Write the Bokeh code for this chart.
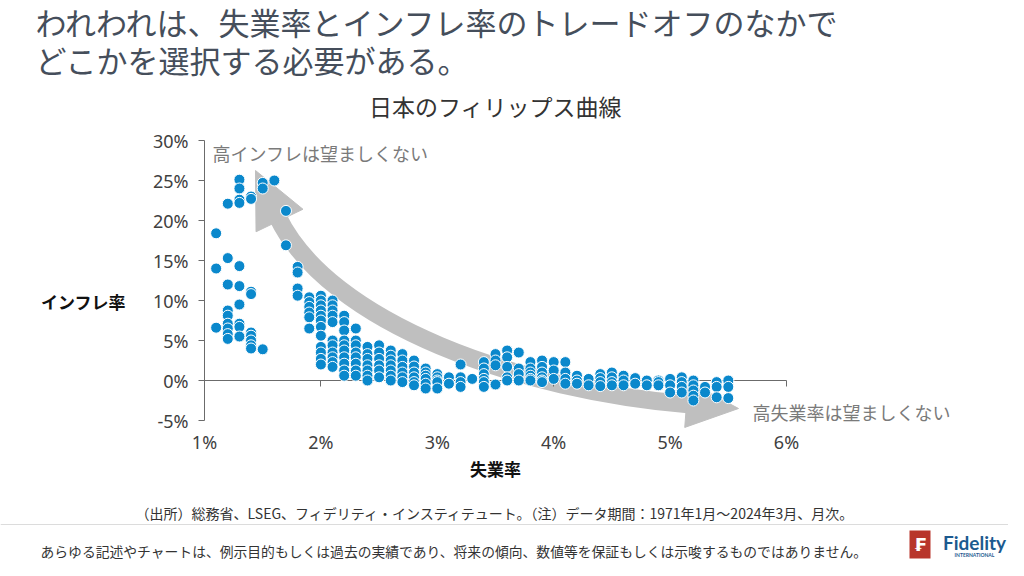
import math
from bokeh.plotting import figure
from bokeh.models import (Range1d, FixedTicker, PrintfTickFormatter,
                          Label, BoxAnnotation)
from bokeh.embed import file_html
from bokeh.resources import INLINE

# ---------------- data ----------------
unemployment_rate = [
    1.1, 1.1, 1.1,
    1.2, 1.2, 1.2, 1.2, 1.2, 1.2, 1.2, 1.2, 1.2,
    1.3, 1.3, 1.3, 1.3, 1.3, 1.3, 1.3, 1.3, 1.3, 1.3,
    1.4, 1.4, 1.4, 1.4, 1.4, 1.4, 1.4, 1.4, 1.4,
    1.5, 1.5, 1.5,
    1.6,
    1.7, 1.7,
    1.8, 1.8, 1.8, 1.8,
    1.9, 1.9, 1.9, 1.9, 1.9, 1.9,
    2.0, 2.0, 2.0, 2.0, 2.0, 2.0, 2.0, 2.0, 2.0, 2.0, 2.0, 2.0,
    2.1, 2.1, 2.1, 2.1, 2.1, 2.1, 2.1, 2.1, 2.1, 2.1, 2.1,
    2.2, 2.2, 2.2, 2.2, 2.2, 2.2, 2.2, 2.2, 2.2, 2.2,
    2.3, 2.3, 2.3, 2.3, 2.3, 2.3, 2.3, 2.3,
    2.4, 2.4, 2.4, 2.4, 2.4, 2.4, 2.4,
    2.5, 2.5, 2.5, 2.5, 2.5, 2.5,
    2.6, 2.6, 2.6, 2.6, 2.6, 2.6, 2.6,
    2.7, 2.7, 2.7, 2.7, 2.7, 2.7,
    2.8, 2.8, 2.8, 2.8, 2.8, 2.8,
    2.9, 2.9, 2.9, 2.9, 2.9, 2.9,
    3.0, 3.0, 3.0, 3.0, 3.0,
    3.1, 3.1,
    3.2, 3.2, 3.2, 3.2,
    3.3,
    3.4, 3.4, 3.4, 3.4, 3.4, 3.4,
    3.5, 3.5, 3.5, 3.5,
    3.6, 3.6, 3.6, 3.6, 3.6,
    3.7, 3.7, 3.7, 3.7,
    3.8, 3.8, 3.8, 3.8, 3.8, 3.8,
    3.9, 3.9, 3.9, 3.9, 3.9, 3.9,
    4.0, 4.0, 4.0,
    4.1, 4.1, 4.1, 4.1,
    4.2, 4.2, 4.2,
    4.3, 4.3,
    4.4, 4.4, 4.4, 4.4,
    4.5, 4.5, 4.5, 4.5,
    4.6, 4.6, 4.6,
    4.7, 4.7,
    4.8, 4.8,
    4.9, 4.9, 4.9,
    5.0, 5.0, 5.0,
    5.1, 5.1, 5.1, 5.1,
    5.2, 5.2, 5.2, 5.2, 5.2,
    5.3, 5.3,
    5.4, 5.4, 5.4,
    5.5, 5.5, 5.5,
]
inflation_rate = [
    18.4, 14.0, 6.6,
    22.1, 15.3, 12.0, 8.75, 8.1, 7.1, 6.5, 5.8, 5.2,
    25.1, 24.0, 22.6, 22.2, 14.3, 11.8, 9.5, 7.1, 6.7, 5.5,
    23.0, 22.7, 11.1, 10.8, 6.0, 5.6, 5.0, 4.4, 4.0,
    24.7, 24.0, 3.9,
    25.0,
    21.2, 16.9,
    14.2, 13.5, 11.5, 10.6,
    10.4, 9.8, 9.2, 8.5, 7.9, 6.5,
    10.6, 10.0, 9.4, 8.75, 8.1, 7.5, 6.7, 5.6, 4.2, 3.5, 2.7, 2.0,
    10.0, 9.4, 8.75, 8.1, 7.3, 5.0, 4.4, 3.5, 2.9, 2.3, 1.7,
    8.1, 7.3, 6.25, 5.0, 4.4, 3.75, 2.9, 2.1, 1.25, 0.6,
    6.5, 5.0, 4.4, 3.5, 2.9, 2.1, 1.25, 0.6,
    4.2, 3.3, 2.7, 1.9, 1.25, 0.6, 0.0,
    4.4, 3.5, 2.7, 1.9, 1.25, 0.4,
    3.75, 3.1, 2.5, 1.9, 1.25, 0.6, 0.0,
    3.3, 2.5, 1.7, 1.0, 0.4, -0.2,
    2.5, 1.75, 1.0, 0.4, -0.2, -0.6,
    1.5, 1.0, 0.6, 0.2, -0.4, -1.0,
    0.8, 0.4, 0.0, -0.2, -1.0,
    0.4, -0.4,
    2.0, 0.4, -0.2, -0.8,
    0.2,
    2.3, 1.5, 0.8, 0.2, -0.2, -0.8,
    3.3, 2.5, 1.9, -0.5,
    3.75, 2.9, 1.7, 0.4, 0.0,
    3.5, 1.5, 0.8, 0.0,
    2.3, 1.5, 1.0, 0.6, 0.2, 0.0,
    2.5, 1.7, 1.0, 0.4, 0.0, -0.2,
    2.3, 1.25, 0.2,
    2.3, 1.0, 0.2, -0.4,
    0.6, 0.0, -0.4,
    0.2, -0.6,
    0.8, 0.3, -0.2, -0.7,
    1.0, 0.4, -0.2, -0.6,
    0.6, 0.0, -0.6,
    0.3, -0.4,
    0.0, -0.6,
    0.0, -0.2, -0.6,
    0.2, -0.6, -1.5,
    0.4, -0.2, -0.8, -1.5,
    0.0, -0.6, -1.25, -1.9, -2.5,
    -0.8, -1.5,
    -0.2, -0.8, -2.1,
    0.0, -0.8, -2.2,
]
x_ticks = [1, 2, 3, 4, 5, 6]
y_ticks = [-5, 0, 5, 10, 15, 20, 25, 30]

title_lines = ["われわれは、失業率とインフレ率のトレードオフのなかで",
               "どこかを選択する必要がある。"]
chart_title = "日本のフィリップス曲線"
x_label = "失業率"
y_label = "インフレ率"
note_high_inflation = "高インフレは望ましくない"
note_high_unemployment = "高失業率は望ましくない"
source_text = "（出所）総務省、LSEG、フィデリティ・インスティテュート。（注）データ期間：1971年1月～2024年3月、月次。"
disclaimer_text = "あらゆる記述やチャートは、例示目的もしくは過去の実績であり、将来の傾向、数値等を保証もしくは示唆するものではありません。"

# ---------------- layout helpers (canvas pixels -> data units) ----------------
FONT = "Noto Sans CJK JP"
W, H = 1008, 560
PX_PER_X = 116.4
PX_PER_Y = 8.0


def X(px):
    return 1 + (px - 204) / PX_PER_X


def Y(py):
    return (380 - py) / PX_PER_Y


# the frame covers the whole canvas so that nothing is clipped
p = figure(width=W, height=H, output_backend="svg", toolbar_location=None,
           x_range=Range1d(X(0), X(W)), y_range=Range1d(Y(H), Y(0)),
           min_border_left=0, min_border_right=0,
           min_border_top=0, min_border_bottom=0,
           background_fill_color="white", border_fill_color="white")
p.outline_line_color = None
p.grid.visible = False

AX_C = "#6b6b6b"

# y axis, placed at x = 1%
ya = p.yaxis[0]
ya.fixed_location = x_ticks[0]
ya.bounds = (y_ticks[0], y_ticks[-1])
ya.ticker = FixedTicker(ticks=y_ticks)
ya.formatter = PrintfTickFormatter(format="%d%%")
ya.axis_line_color = AX_C
ya.major_tick_line_color = AX_C
ya.major_tick_out = 6
ya.major_tick_in = 0
ya.minor_tick_line_color = None
ya.major_label_text_font = "Noto Sans"
ya.major_label_text_font_size = "18px"
ya.major_label_text_color = "#404040"
ya.major_label_standoff = 10

# x axis, line at 0%, labels below the -5% level
xa = p.xaxis[0]
xa.fixed_location = 0
xa.bounds = (x_ticks[0], x_ticks[-1])
xa.ticker = FixedTicker(ticks=x_ticks)
xa.formatter = PrintfTickFormatter(format="%d%%")
xa.axis_line_color = AX_C
xa.major_tick_line_color = AX_C
xa.major_tick_out = 6
xa.major_tick_in = 0
xa.minor_tick_line_color = None
xa.major_label_text_font = "Noto Sans"
xa.major_label_text_font_size = "18px"
xa.major_label_text_color = "#404040"
xa.major_label_standoff = 43
xa.level = "underlay"

# ---------------- curved double arrow (decoration) ----------------
ARROW_C = "#bfbfbf"
P0, P1, P2, P3 = (277, 216), (329, 324), (520, 390), (690, 404)
p.bezier(x0=[X(P0[0])], y0=[Y(P0[1])], x1=[X(P3[0])], y1=[Y(P3[1])],
         cx0=[X(P1[0])], cy0=[Y(P1[1])], cx1=[X(P2[0])], cy1=[Y(P2[1])],
         line_color=ARROW_C, line_width=18, level="underlay")


def head(tip, base, w):
    dx, dy = tip[0] - base[0], tip[1] - base[1]
    L = math.hypot(dx, dy)
    nx, ny = -dy / L, dx / L
    pts = [tip, (base[0] + nx * w / 2, base[1] + ny * w / 2),
           (base[0] - nx * w / 2, base[1] - ny * w / 2)]
    return [X(a) for a, _ in pts], [Y(b) for _, b in pts]


for tip, base, w in [((255, 170), (279, 220), 52), ((738, 408), (686, 404), 46)]:
    hx, hy = head(tip, base, w)
    p.patch(hx, hy, fill_color=ARROW_C, line_color=ARROW_C, level="underlay")

# ---------------- scatter ----------------
p.scatter(unemployment_rate, inflation_rate, size=11, fill_color="#0a88cc",
          line_color="white", line_width=1)


# ---------------- texts ----------------
def lab(text, px, py, size, color="#333333", align="left", style="normal",
        font=FONT, baseline="middle"):
    p.add_layout(Label(x=X(px), y=Y(py), text=text, text_font=font,
                       text_font_size=f"{size}px", text_color=color,
                       text_align=align, text_baseline=baseline,
                       text_font_style=style))


lab(title_lines[0], 35, 21, 31, color="#454e5b")
lab(title_lines[1], 35, 59, 31, color="#454e5b")
lab(chart_title, 495, 105, 23, color="#333333", align="center")
lab(note_high_inflation, 212, 152, 18, color="#7a7a7a")
lab(note_high_unemployment, 752, 411, 18, color="#7a7a7a")
lab(y_label, 83, 301, 17, color="#111111", align="center", style="bold")
lab(x_label, 495, 468, 17, color="#111111", align="center", style="bold")
lab(source_text, 495, 512, 14, color="#333333", align="center")
lab(disclaimer_text, 40, 550, 13.8, color="#333333")

# separator line
p.add_layout(BoxAnnotation(left=X(0), right=X(W), top=Y(523.5), bottom=Y(524.5),
                           fill_color="#dcdcdc", fill_alpha=1, line_color=None))
# logo
p.add_layout(BoxAnnotation(left=X(909), right=X(930), top=Y(530), bottom=Y(558),
                           fill_color="#b8352b", fill_alpha=1, line_color=None))
lab("₣", 919.5, 544, 18, color="white", align="center", style="bold", font="DejaVu Sans")
lab("Fidelity", 974, 542, 19, color="#1c5a8f", align="center", style="bold", font="Lato")
lab("INTERNATIONAL", 974, 554, 5, color="#1c5a8f", align="center", style="bold", font="Lato")

open("out.html", "w").write(file_html(p, INLINE))
